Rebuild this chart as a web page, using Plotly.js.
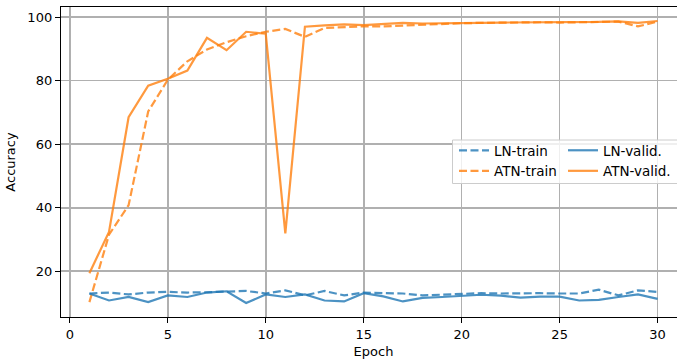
<!DOCTYPE html>
<html><head><meta charset="utf-8">
<script src="https://cdn.plot.ly/plotly-3.0.1.min.js"></script>
<style>html,body{margin:0;padding:0;overflow:hidden;background:#fff}#chart{width:700px;height:361px}</style>
</head><body><div id="chart"></div>
<script>
const epochs = Array.from({length:30},(_,i)=>i+1);
const lnTrain = [13.0,13.3,12.7,13.3,13.5,13.3,13.4,13.7,13.8,13.0,14.0,12.4,13.8,12.4,13.3,13.1,13.0,12.4,12.7,13.0,13.1,13.0,13.1,13.1,13.0,13.0,14.2,12.4,14.0,13.5];
const lnValid = [13.0,10.8,11.9,10.3,12.4,11.9,13.3,13.7,10.0,12.7,11.9,12.7,10.8,10.5,13.1,12.1,10.5,11.6,11.9,12.2,12.6,12.3,11.7,12.0,12.0,10.8,11.0,11.9,12.7,11.3];
const atnTrain = [10.3,31.5,40.8,70.3,80.3,86.1,89.8,92.1,94.0,95.4,96.3,93.8,96.6,96.9,97.1,97.1,97.4,97.7,98.0,98.1,98.2,98.3,98.3,98.4,98.3,98.4,98.5,98.6,97.1,98.6];
const atnValid = [19.4,32.4,68.5,78.4,80.6,83.2,93.5,89.6,95.4,94.8,31.9,97.0,97.4,97.7,97.5,97.9,98.2,98.0,98.0,98.2,98.2,98.3,98.3,98.4,98.3,98.4,98.5,98.7,98.2,98.8];
const xTicks = [0,5,10,15,20,25,30];
const yTicks = [20,40,60,80,100];

const blue = 'rgba(31,119,180,0.8)', orange = 'rgba(255,127,14,0.8)';
const mk = (y,name,color,dash,legend) => ({x:epochs,y:y,name:name,type:'scatter',mode:'lines',
  line:{color:color,width:2.2,dash:dash},legend:legend});
const traces = [
  mk(lnTrain,'LN-train',blue,'8px,3.5px','legend'),
  mk(atnTrain,'ATN-train',orange,'8px,3.5px','legend'),
  mk(lnValid,'LN-valid.',blue,'solid','legend2'),
  mk(atnValid,'ATN-valid.',orange,'solid','legend2')
];
const font = {family:'DejaVu Sans, sans-serif',size:13,color:'#000'};
const lfont = {family:'DejaVu Sans, sans-serif',size:13.5,color:'#000'};
const L=61, R=686, T=7, B=317;
const px = p => (p-L)/(R-L), py = p => (B-p)/(B-T);
const layout = {
  width:700,height:361,margin:{l:L,r:700-R,t:T,b:361-B},
  paper_bgcolor:'#fff',plot_bgcolor:'#fff',font:font,showlegend:true,
  xaxis:{range:[-0.45,31.45],tickvals:xTicks,ticktext:xTicks.map(String),
    showgrid:true,gridcolor:'#b0b0b0',gridwidth:1.6,zeroline:false,
    showline:true,linecolor:'#000',linewidth:1.2,mirror:true,
    ticks:'outside',ticklen:5,tickcolor:'#000',tickfont:font,
    title:{text:'Epoch',font:font,standoff:6}},
  yaxis:{range:[5.6,103.2],tickvals:yTicks,ticktext:yTicks.map(String),
    showgrid:true,gridcolor:'#b0b0b0',gridwidth:1.6,zeroline:false,
    showline:true,linecolor:'#000',linewidth:1.2,mirror:true,
    ticks:'outside',ticklen:5,tickcolor:'#000',tickfont:font,
    title:{text:'Accuracy',font:font,standoff:8}},
  legend:{x:px(454),y:py(135),xanchor:'left',yanchor:'top',bgcolor:'rgba(0,0,0,0)',
    font:lfont,tracegroupgap:0,itemwidth:30},
  legend2:{x:px(563),y:py(135),xanchor:'left',yanchor:'top',bgcolor:'rgba(0,0,0,0)',
    font:lfont,tracegroupgap:0,itemwidth:30},
  shapes:[{type:'rect',xref:'paper',yref:'paper',x0:px(452.5),x1:px(678),y0:py(183.5),y1:py(140),
    line:{color:'#cccccc',width:1},fillcolor:'rgba(255,255,255,0.8)',layer:'above'}]
};
Plotly.newPlot('chart',traces,layout,{displayModeBar:false,staticPlot:true});
</script></body></html>
